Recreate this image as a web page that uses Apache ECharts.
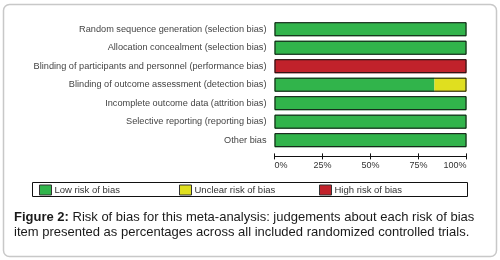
<!DOCTYPE html>
<html><head><meta charset="utf-8">
<script src="https://cdn.jsdelivr.net/npm/echarts@6/dist/echarts.min.js"></script>
<style>html,body{margin:0;padding:0;background:#fff}#c{width:500px;height:260px}</style>
</head><body><div id="c"></div>
<script>
const categories = [
  'Random sequence generation (selection bias)',
  'Allocation concealment (selection bias)',
  'Blinding of participants and personnel (performance bias)',
  'Blinding of outcome assessment (detection bias)',
  'Incomplete outcome data (attrition bias)',
  'Selective reporting (reporting bias)',
  'Other bias'
];
const lowRisk     = [100, 100, 0, 83.3, 100, 100, 100];
const unclearRisk = [0, 0, 0, 16.7, 0, 0, 0];
const highRisk    = [0, 0, 100, 0, 0, 0, 0];
const outline     = [100, 100, 100, 100, 100, 100, 100];
const tickValues  = [0, 25, 50, 75, 100];
const seriesNames = ['Low risk of bias', 'Unclear risk of bias', 'High risk of bias'];
const colors = ['#31b44b', '#e0df1f', '#c1222b'];

const chart = echarts.init(document.getElementById('c'), null, {renderer: 'canvas'});
const font = 'Liberation Sans, Arial, sans-serif';
const segData = [lowRisk, unclearRisk, highRisk];
const series = segData.map((d, i) => ({
  name: seriesNames[i], type: 'bar', stack: 'risk', data: d,
  barWidth: 14, itemStyle: {color: colors[i]}, silent: true
}));
series.push({
  name: 'outline', type: 'bar', data: outline, barWidth: 14, barGap: '-100%', z: 5,
  itemStyle: {color: 'rgba(0,0,0,0)', borderColor: '#111', borderWidth: 1}, silent: true
});
const legendLefts = [39, 179, 319];
chart.setOption({
  animation: false,
  textStyle: {fontFamily: font},
  grid: {left: 274.5, right: 33.5, top: 20, height: 129.4, containLabel: false},
  xAxis: [{
    type: 'value', min: 0, max: 100, interval: 25, offset: 7,
    axisLine: {show: true, lineStyle: {color: '#111', width: 1}},
    axisTick: {show: true, length: 3, lineStyle: {color: '#111'}},
    splitLine: {show: false},
    axisLabel: {formatter: v => tickValues.includes(v) ? v + '%' : '', fontSize: 9, color: '#333', margin: 5,
      alignMinLabel: 'left', alignMaxLabel: 'right', fontFamily: font}
  }, {
    type: 'value', min: 0, max: 100, interval: 25, offset: 7, position: 'bottom',
    axisLine: {show: false},
    axisTick: {show: true, inside: true, length: 3, lineStyle: {color: '#111'}},
    splitLine: {show: false}, axisLabel: {show: false}
  }],
  yAxis: {
    type: 'category', data: categories, inverse: true,
    axisLine: {show: false}, axisTick: {show: false},
    axisLabel: {fontSize: 9.2, color: '#444', margin: 8, fontFamily: font}
  },
  legend: seriesNames.map((n, i) => ({
    data: [n], left: legendLefts[i], top: 184.5, itemWidth: 12, itemHeight: 10, itemGap: 4,
    icon: 'rect', selectedMode: false, padding: 0,
    itemStyle: {borderColor: '#333', borderWidth: 1},
    textStyle: {fontSize: 9.5, color: '#333', fontFamily: font, padding: [0, 0, 0, -2]}
  })),
  series: series,
  graphic: [
    {type: 'rect', shape: {x: 3.5, y: 4.5, width: 493, height: 252, r: 6}, style: {fill: 'none', stroke: '#c8c8c8', lineWidth: 1.5}, z: -1},
    {type: 'rect', shape: {x: 32.5, y: 182.5, width: 435, height: 14}, style: {fill: 'none', stroke: '#111', lineWidth: 1}},
    {type: 'text', left: 14, top: 210, style: {
      text: '{b|Figure 2:} Risk of bias for this meta-analysis: judgements about each risk of bias\nitem presented as percentages across all included randomized controlled trials.',
      fontSize: 13, lineHeight: 15, fill: '#1a1a1a', fontFamily: font,
      rich: {b: {fontWeight: 'bold', fontSize: 13, fontFamily: font, fill: '#1a1a1a'}}
    }}
  ]
});
</script></body></html>
